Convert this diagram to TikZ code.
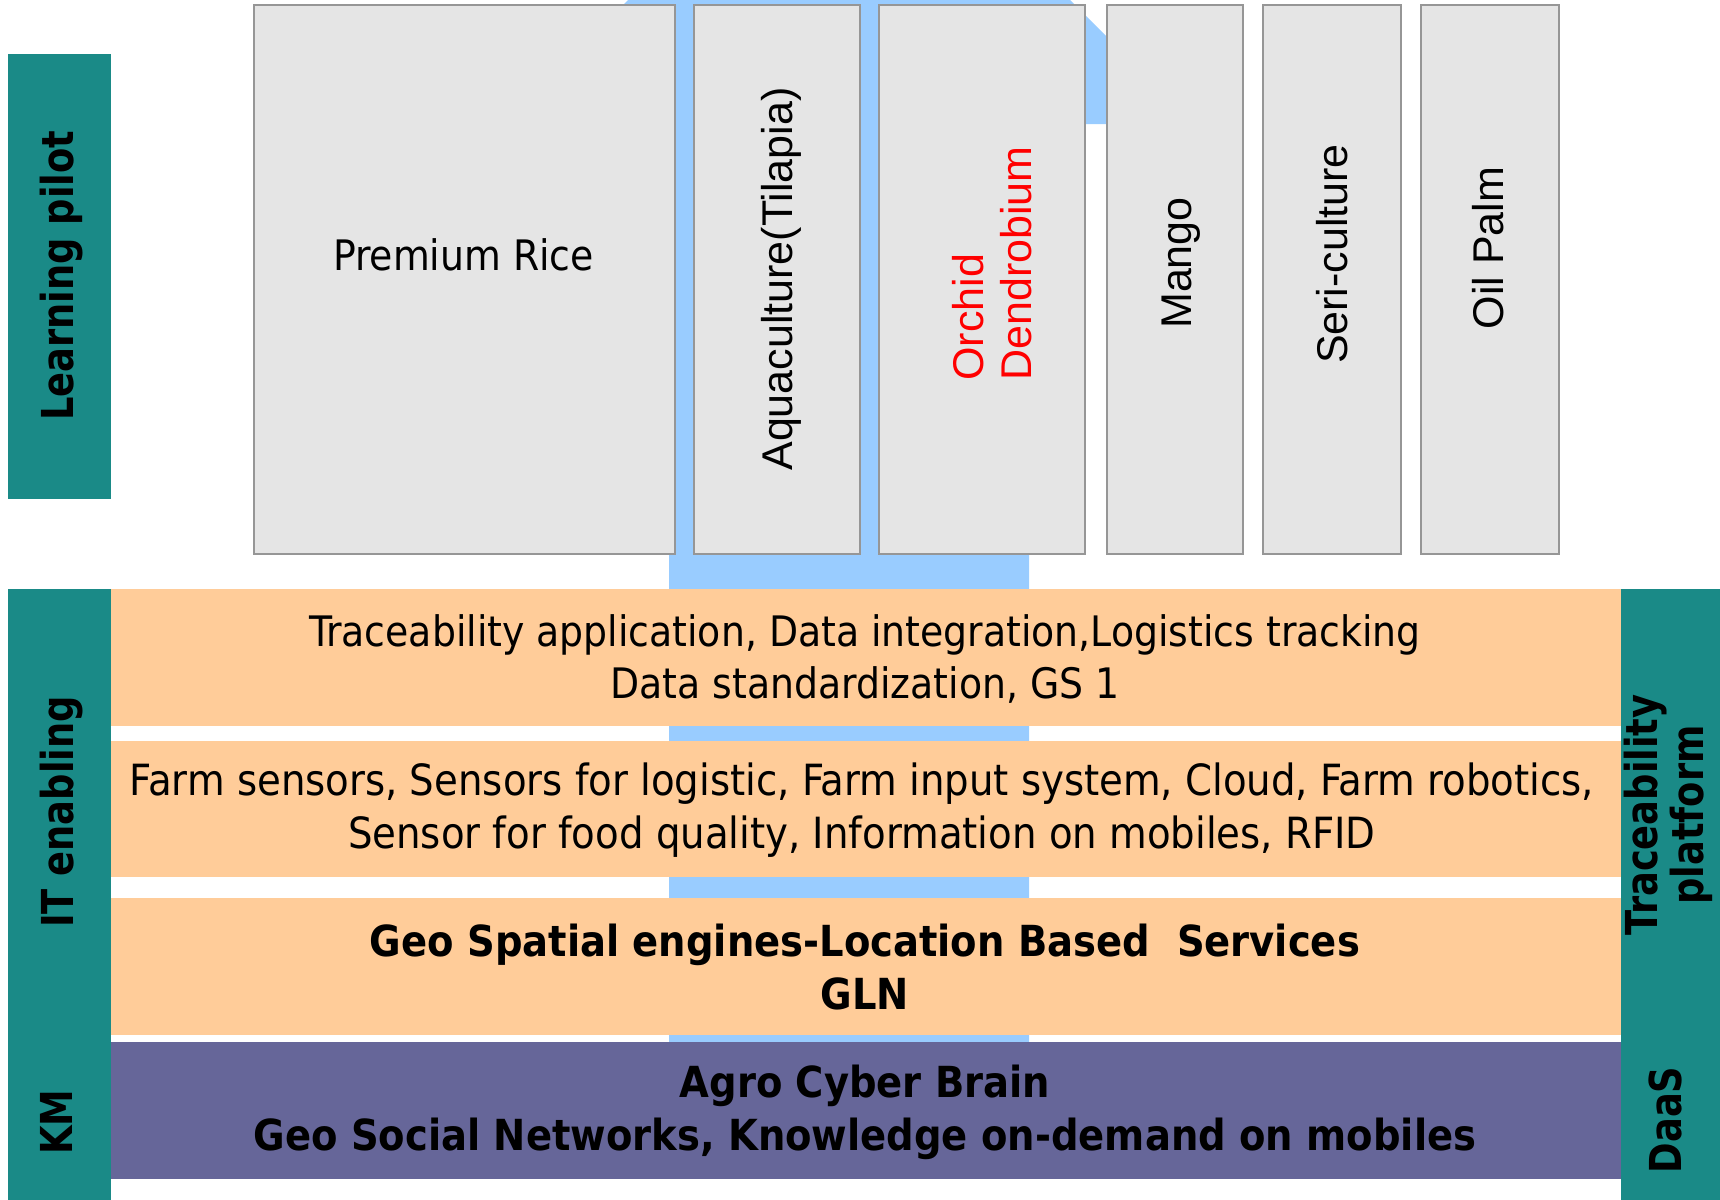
\documentclass[tikz,border=0pt]{standalone}
\usepackage{fontspec}
\usepackage{graphicx}
\setmainfont{Liberation Sans}
\newfontfamily\condfont{DejaVu Sans Condensed}
\newfontfamily\arialfont{Liberation Sans}
\definecolor{tealbar}{RGB}{26,138,135}
\definecolor{bandorange}{RGB}{255,204,153}
\definecolor{bandpurple}{RGB}{102,102,153}
\definecolor{boxgray}{RGB}{229,229,229}
\definecolor{boxline}{RGB}{150,150,150}
\definecolor{arrowblue}{RGB}{153,204,255}
\newcommand{\sidetext}[1]{\scalebox{0.93}[1]{\begin{tabular}{@{}c@{}}#1\end{tabular}}}
\tikzset{
  graybox/.style={fill=boxgray, draw=boxline, line width=1pt},
  sidebar/.style={fill=tealbar},
  orangeband/.style={fill=bandorange},
  purpleband/.style={fill=bandpurple},
  croplab/.style={font=\arialfont\fontsize{21.5}{24}\selectfont, inner sep=0pt, rotate=90},
  sidelab/.style={font=\condfont\bfseries\fontsize{22}{22}\selectfont, inner sep=0pt, rotate=90, align=center},
  bandtext/.style={font=\condfont\fontsize{21}{26.4}\selectfont, inner sep=0pt, align=center},
  bandbold/.style={font=\condfont\bfseries\fontsize{21.4}{26.4}\selectfont, inner sep=0pt, align=center}
}
\begin{document}
\begin{tikzpicture}[x=0.5pt,y=-0.5pt]
\useasboundingbox (0,0) rectangle (1720,1200);
\begin{scope}
\clip (0,0) rectangle (1720,1200);
% blue up-arrow in the background
\fill[arrowblue] (669,1042) -- (669,124) -- (504,124) -- (849,-221) -- (1194,124) -- (1029,124) -- (1029,1042) -- cycle;
\end{scope}
% crop boxes
\path[graybox] (254,5.4) rectangle (674.7,554);
\path[graybox] (694,5.4) rectangle (860,554);
\path[graybox] (879,5.4) rectangle (1085,554);
\path[graybox] (1107,5.4) rectangle (1243,554);
\path[graybox] (1262.6,5.4) rectangle (1401.4,554);
\path[graybox] (1420.6,5.4) rectangle (1559.4,554);
% side bars
\path[sidebar] (8.2,53.6) rectangle (110.8,499.4);
\path[sidebar] (8.2,589) rectangle (110.8,1200);
\path[sidebar] (1620.8,589) rectangle (1720,1200);
% bands
\path[orangeband] (110.8,589) rectangle (1620.8,725.5);
\path[orangeband] (110.8,741) rectangle (1620.8,877);
\path[orangeband] (110.8,897.5) rectangle (1620.8,1035);
\path[purpleband] (110.8,1042) rectangle (1620.8,1178.5);
% crop labels
\node[font=\condfont\fontsize{21}{24}\selectfont, inner sep=0pt] (rice) at (463.5,255) {Premium Rice};
\node[croplab] (aqua) at (781.7,279) {Aquaculture(Tilapia)};
\node[croplab, text=red, align=left, anchor=west] (orchid) at (991.7,381) {Orchid\\Dendrobium};
\node[croplab] (mango) at (1181,263) {Mango};
\node[croplab] (seri) at (1331.7,254) {Seri-culture};
\node[croplab] (palm) at (1488,248) {Oil Palm};
% side labels
\node[sidelab] (learn) at (63,275.6) {\sidetext{Learning pilot}};
\node[sidelab] (itenab) at (63,812) {\sidetext{IT enabling}};
\node[sidelab] (km) at (63,1122) {\sidetext{KM}};
\node[sidelab] (trace) at (1670.5,815) {\sidetext{Traceability\\platform}};
\node[sidelab] (daas) at (1671.5,1120) {\sidetext{DaaS}};
% band texts
\node[bandtext] (t1) at (865,659) {Traceability application, Data integration,Logistics tracking\\Data standardization, GS 1};
\node[bandtext, font=\condfont\fontsize{21.5}{26.4}\selectfont] (t2) at (862,810) {Farm sensors, Sensors for logistic, Farm input system, Cloud, Farm robotics,\\Sensor for food quality, Information on mobiles, RFID};
\node[bandbold] (t3) at (865,967) {Geo Spatial engines-Location Based\ \ Services\\GLN};
\node[bandbold] (t4) at (865,1112) {Agro Cyber Brain\\Geo Social Networks, Knowledge on-demand on mobiles};
\end{tikzpicture}
\end{document}
